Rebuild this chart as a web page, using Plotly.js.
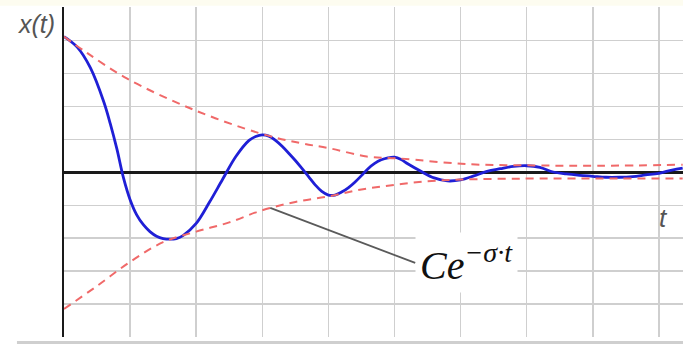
<!DOCTYPE html>
<html>
<head>
<meta charset="utf-8">
<script src="https://cdn.plot.ly/plotly-3.0.1.min.js"></script>
<style>html,body{margin:0;padding:0;background:#fff;}#chart{width:683px;height:344px;}</style>
</head>
<body>
<div id="chart"></div>
<script>
// Response x(t) (t and x in grid units)
const tResp = [0, 0.2, 0.4, 0.6, 0.7, 0.8, 0.9, 1.0, 1.1, 1.2, 1.3, 1.4, 1.5, 1.6, 1.7, 1.8, 2.0, 2.2, 2.4, 2.6, 2.8, 2.9, 3.0, 3.1, 3.2, 3.3, 3.4, 3.5, 3.6, 3.7, 3.8, 3.9, 4.0, 4.1, 4.2, 4.3, 4.4, 4.5, 4.6, 4.7, 4.8, 4.9, 5.0, 5.1, 5.2, 5.4, 5.6, 5.8, 6.0, 6.2, 6.4, 6.6, 6.8, 7.0, 7.2, 7.4, 7.6, 7.8, 8.0, 8.2, 8.4, 8.6, 8.8, 9.0, 9.2, 9.36];
const xResp = [4.12, 3.80, 3.17, 2.15, 1.48, 0.71, -0.17, -0.83, -1.29, -1.59, -1.80, -1.94, -2.01, -2.03, -2.01, -1.92, -1.55, -0.91, -0.21, 0.48, 0.97, 1.09, 1.14, 1.10, 0.97, 0.79, 0.58, 0.36, 0.12, -0.13, -0.38, -0.58, -0.69, -0.69, -0.60, -0.47, -0.30, -0.10, 0.11, 0.27, 0.38, 0.44, 0.46, 0.39, 0.26, 0.03, -0.17, -0.26, -0.23, -0.11, 0.03, 0.11, 0.18, 0.20, 0.15, 0.01, -0.05, -0.09, -0.12, -0.15, -0.15, -0.13, -0.08, -0.03, 0.07, 0.13];

// Upper envelope  +C e^{-σt}
const tUpper = [0, 0.36, 0.95, 1.95, 2.97, 3.57, 4.02, 4.58, 5.08, 6.09, 7.10, 8.11, 9.36];
const xUpper = [4.12, 3.61, 2.85, 1.91, 1.18, 0.89, 0.73, 0.48, 0.42, 0.25, 0.21, 0.20, 0.23];

// Lower envelope  -C e^{-σt}
const tLower = [0, 0.5, 1.0, 1.5, 2.0, 2.5, 3.0, 3.5, 4.0, 4.5, 5.0, 5.5, 6.0, 7.0, 8.0, 9.36];
const xLower = [-4.15, -3.45, -2.72, -2.12, -1.80, -1.52, -1.15, -0.90, -0.73, -0.52, -0.38, -0.27, -0.22, -0.19, -0.19, -0.19];

// Annotation anchor on the lower envelope
const labelPoint = {t: 3.12, x: -1.08};

const envStyle = {color: 'rgb(240,105,105)', width: 2, dash: '8px,6px', shape: 'spline', smoothing: 1, simplify: false};

const traces = [
  {x: tResp, y: xResp, mode: 'lines', line: {color: '#1f1fd6', width: 2.8, shape: 'spline', smoothing: 1, simplify: false}, hoverinfo: 'skip'},
  {x: tUpper, y: xUpper, mode: 'lines', line: envStyle, hoverinfo: 'skip'},
  {x: tLower, y: xLower, mode: 'lines', line: envStyle, hoverinfo: 'skip'}
];

const layout = {
  width: 683, height: 344,
  margin: {l: 64, r: 0, t: 7, b: 7},
  paper_bgcolor: '#ffffff', plot_bgcolor: '#ffffff',
  showlegend: false,
  xaxis: {range: [0, 9.365], dtick: 1, tick0: 0, showgrid: true, gridcolor: '#cfcfcf', gridwidth: 1.5,
          zeroline: false, showline: false, showticklabels: false, ticks: ''},
  yaxis: {range: [-5, 5.02], dtick: 1, tick0: 0, showgrid: true, gridcolor: '#cfcfcf', gridwidth: 1.5,
          zeroline: true, zerolinecolor: '#1a1a1a', zerolinewidth: 2.5,
          showline: true, linecolor: '#1a1a1a', linewidth: 2.5, showticklabels: false, ticks: ''},
  shapes: [
    {type: 'rect', xref: 'paper', yref: 'paper', x0: -0.11, x1: 1.01, y0: 1.004, y1: 1.03, fillcolor: '#fdfcf0', line: {width: 0}, layer: 'below'},
    {type: 'rect', xref: 'paper', yref: 'paper', x0: -0.076, x1: 1.01, y0: -0.012, y1: -0.03, fillcolor: '#cfcfcf', line: {width: 0}}
  ],
  annotations: [
    {xref: 'paper', yref: 'paper', x: -0.011, y: 0.948, xanchor: 'right', yanchor: 'middle', text: '<i>x(t)</i>', showarrow: false,
     font: {family: 'Liberation Sans, Arial, sans-serif', size: 25, color: '#555555'}},
    {xref: 'paper', yref: 'paper', x: 0.968, y: 0.36, xanchor: 'center', yanchor: 'middle', text: '<i>t</i>', showarrow: false,
     font: {family: 'Liberation Sans, Arial, sans-serif', size: 26, color: '#555555'}},
    {x: labelPoint.t, y: labelPoint.x, xref: 'x', yref: 'y', text: '<i>Ce<sup>−σ·t</sup></i>',
     showarrow: true, arrowhead: 0, arrowwidth: 1.8, arrowcolor: '#5a5a5a', ax: 145, ay: 55,
     xanchor: 'left', yanchor: 'middle',
     bgcolor: '#ffffff', borderpad: 4,
     font: {family: 'Liberation Serif, Times New Roman, serif', size: 40, color: '#111111'}}
  ]
};

Plotly.newPlot('chart', traces, layout, {staticPlot: true, displayModeBar: false});
</script>
</body>
</html>
